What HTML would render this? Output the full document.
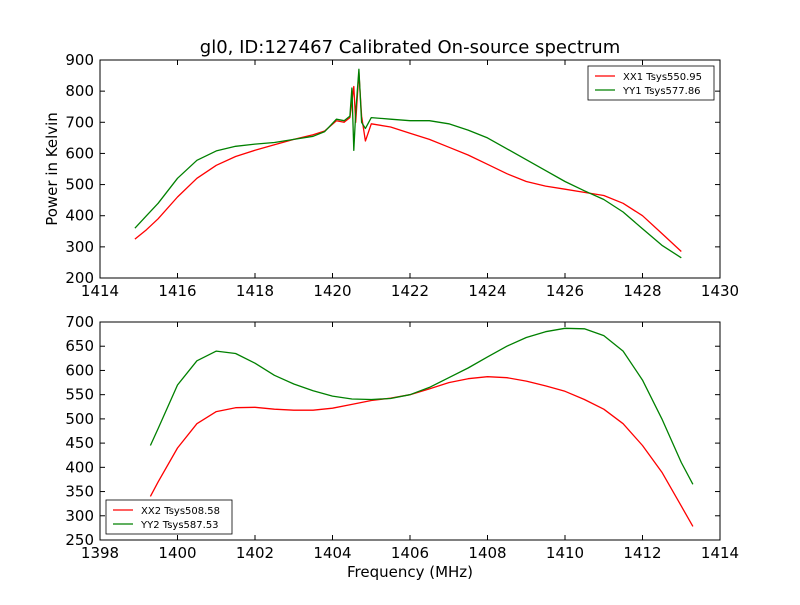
<!DOCTYPE html>
<html><head><meta charset="utf-8"><style>body{margin:0;background:#fff}svg{font-family:"DejaVu Sans","Liberation Sans",sans-serif}</style></head>
<body>
<svg id="c" width="800" height="600" viewBox="0 0 800 600">
<rect width="800" height="600" fill="#fff"/>
<text x="410" y="53" font-size="18" text-anchor="middle">gl0, ID:127467 Calibrated On-source spectrum</text>
<text transform="translate(57,169) rotate(-90)" font-size="15" text-anchor="middle">Power in Kelvin</text>
<text x="410" y="577" font-size="15" text-anchor="middle">Frequency (MHz)</text>
</svg>
<script>
const topX1=[1414.9,1415.2,1415.5,1416,1416.5,1417,1417.5,1418,1418.5,1419,1419.5,1419.8,1420.1,1420.3,1420.45,1420.55,1420.6,1420.68,1420.75,1420.85,1421,1421.5,1422,1422.5,1423,1423.5,1424,1424.5,1425,1425.5,1426,1426.5,1427,1427.5,1428,1428.5,1429];
const xx1=[325,355,390,460,520,562,590,610,628,645,660,672,705,700,715,815,700,860,720,640,695,685,665,645,620,595,565,535,510,495,485,475,465,440,400,343,285];
const topX2=[1414.9,1415.2,1415.5,1416,1416.5,1417,1417.5,1418,1418.5,1419,1419.5,1419.8,1420.1,1420.3,1420.45,1420.5,1420.55,1420.6,1420.68,1420.75,1420.85,1421,1421.5,1422,1422.5,1423,1423.5,1424,1424.5,1425,1425.5,1426,1426.5,1427,1427.5,1428,1428.5,1429];
const yy1=[360,400,440,520,578,608,623,630,635,645,655,670,710,705,720,810,610,730,870,700,680,715,710,705,705,695,675,650,615,580,545,510,480,452,412,358,305,265];
const botX=[1399.3,1399.5,1400,1400.5,1401,1401.5,1402,1402.5,1403,1403.5,1404,1404.5,1405,1405.5,1406,1406.5,1407,1407.5,1408,1408.5,1409,1409.5,1410,1410.5,1411,1411.5,1412,1412.5,1413,1413.3];
const xx2=[340,370,440,490,515,523,524,520,518,518,522,530,538,543,550,562,575,583,587,585,578,568,557,540,520,490,445,390,320,278];
const yy2=[445,480,570,620,640,635,615,590,572,558,547,541,540,542,550,565,585,605,628,650,668,680,687,686,672,640,580,500,410,365];
const topXTicks=[1414,1416,1418,1420,1422,1424,1426,1428,1430];
const topYTicks=[200,300,400,500,600,700,800,900];
const botXTicks=[1398,1400,1402,1404,1406,1408,1410,1412,1414];
const botYTicks=[250,300,350,400,450,500,550,600,650,700];
const NS="http://www.w3.org/2000/svg",svg=document.getElementById('c');
function mk(t,a,p){const e=document.createElementNS(NS,t);for(const k in a)e.setAttribute(k,a[k]);(p||svg).appendChild(e);return e;}
function panel(name,box,xd,yd,xt,yt,series,leg){
  const sx=v=>box.x+(v-xd[0])/(xd[1]-xd[0])*box.w, sy=v=>box.y+box.h-(v-yd[0])/(yd[1]-yd[0])*box.h;
  const g=mk('g',{});
  
  
  series.forEach(s=>{
    const p=mk('polyline',{points:s.x.map((v,i)=>sx(v).toFixed(1)+','+sy(s.y[i]).toFixed(1)).join(' '),fill:'none',stroke:s.c,'stroke-width':1.3,'stroke-linejoin':'round'},g);
    
    
  });
  const fr=mk('rect',{x:box.x,y:box.y,width:box.w,height:box.h,fill:'none',stroke:'#000','stroke-width':1},g);
  
  
  xt.forEach(v=>{const X=sx(v);mk('line',{x1:X,x2:X,y1:box.y+box.h,y2:box.y+box.h-5,stroke:'#000'},g);mk('line',{x1:X,x2:X,y1:box.y,y2:box.y+5,stroke:'#000'},g);
    const t=mk('text',{x:X,y:box.y+box.h+18,'font-size':15,'text-anchor':'middle'},g);t.textContent=v;
    
    });
  yt.forEach(v=>{const Y=sy(v);mk('line',{x1:box.x,x2:box.x+5,y1:Y,y2:Y,stroke:'#000'},g);mk('line',{x1:box.x+box.w,x2:box.x+box.w-5,y1:Y,y2:Y,stroke:'#000'},g);
    const t=mk('text',{x:box.x-6,y:Y+5,'font-size':15,'text-anchor':'end'},g);t.textContent=v;
    
    });
  const lg=mk('g',{},g);
  
  
  mk('rect',{x:leg.x,y:leg.y,width:126,height:34,fill:'#fff',stroke:'#000','stroke-width':0.8},lg);
  series.forEach((s,i)=>{const Y=leg.y+10+i*14;mk('line',{x1:leg.x+7,x2:leg.x+27,y1:Y,y2:Y,stroke:s.c,'stroke-width':1.3},lg);
    const t=mk('text',{x:leg.x+35,y:Y+4,'font-size':10},lg);t.textContent=s.l;
    
    });
}
panel('top-panel',{x:100,y:60,w:620,h:218},[1414,1430],[200,900],topXTicks,topYTicks,
 [{x:topX1,y:xx1,c:'#ff0000',n:'xx1-line',l:'XX1 Tsys550.95'},{x:topX2,y:yy1,c:'#008000',n:'yy1-line',l:'YY1 Tsys577.86'}],{x:588,y:66});
panel('bottom-panel',{x:100,y:322,w:620,h:218},[1398,1414],[250,700],botXTicks,botYTicks,
 [{x:botX,y:xx2,c:'#ff0000',n:'xx2-line',l:'XX2 Tsys508.58'},{x:botX,y:yy2,c:'#008000',n:'yy2-line',l:'YY2 Tsys587.53'}],{x:106,y:500});
</script>
</body></html>
